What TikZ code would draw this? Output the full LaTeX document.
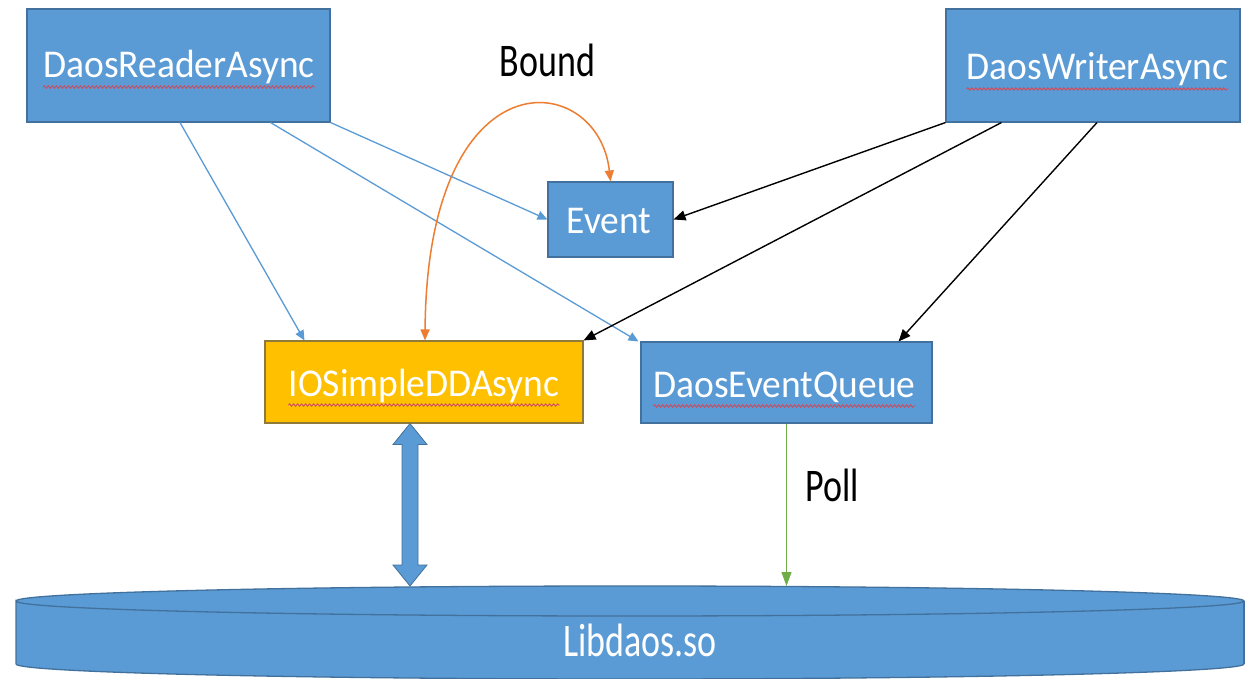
\documentclass[tikz,border=0pt]{standalone}
\usepackage{fontspec}
\setmainfont{Carlito}
\usetikzlibrary{arrows.meta,calc,decorations.pathmorphing}
\definecolor{offblue}{HTML}{5B9BD5}
\definecolor{offblueD}{HTML}{41719C}
\definecolor{offgold}{HTML}{FFC000}
\definecolor{offgoldD}{HTML}{8F7A3A}
\definecolor{offorange}{HTML}{ED7D31}
\definecolor{offgreen}{HTML}{70AD47}
\definecolor{squigred}{HTML}{D04A5A}
\begin{document}
\begin{tikzpicture}[x=1pt,y=-1pt,
  bluebox/.style={draw=offblueD, line width=1.1pt, fill=offblue, inner sep=0pt},
  goldbox/.style={draw=offgoldD, line width=1.1pt, fill=offgold, inner sep=0pt},
  btext/.style={text=white, font=\fontsize{37.5}{42}\selectfont, inner sep=0pt, anchor=base, yscale=1.05, transform shape},
  ktext/.style={text=black, font=\fontsize{36}{40}\selectfont, inner sep=0pt, yscale=1.3, transform shape},
  squig/.style={draw=squigred, line width=0.9pt, decorate, decoration={snake, amplitude=1.2pt, segment length=4pt}},
  bluearr/.style={draw=offblue, line width=1.3pt, -{Triangle[length=10pt,width=9pt]}},
  blackarr/.style={draw=black, line width=1.4pt, -{Triangle[length=12pt,width=10pt]}},
  orangearr/.style={draw=offorange, line width=1.5pt, {Triangle[length=11pt,width=9pt]}-{Triangle[length=11pt,width=9pt]}},
  greenarr/.style={draw=offgreen, line width=1pt, -{Triangle[length=14pt,width=10pt]}}
]
\useasboundingbox (0,0) rectangle (1248,679);
\fill[white] (0,0) rectangle (1248,679);

% boxes
\node[bluebox, minimum width=303pt, minimum height=113pt] (reader) at (178.5,65.5) {};
\node[bluebox, minimum width=294pt, minimum height=113pt] (writer) at (1093,65.5) {};
\node[bluebox, minimum width=125pt, minimum height=75pt] (event) at (610.5,219.5) {};
\node[goldbox, minimum width=318pt, minimum height=82pt] (io) at (424,382) {};
\node[bluebox, minimum width=291pt, minimum height=81pt] (queue) at (786.5,382.5) {};

% texts in boxes
\node[btext] (readert) at (179,78) {DaosReaderAsync};
\node[btext] (writert) at (1097.5,80) {DaosWriterAsync};
\node[btext] (eventt) at (609,233) {Event};
\node[btext] (iot) at (424,396) {IOSimpleDDAsync};
\node[btext] (queuet) at (784.5,397) {DaosEventQueue};

% spell-check underlines
\foreach \t in {readert,writert,iot,queuet}{
  \draw[squig] ([yshift=-9pt]\t.base west) -- ([yshift=-9pt]\t.base east);
}

% cylinder Libdaos.so
\fill[offblue] (16,601) -- (16,664)
  arc[start angle=180, end angle=360, x radius=614pt, y radius=15pt]
  -- (1244,601)
  arc[start angle=0, end angle=180, x radius=614pt, y radius=15pt] -- cycle;
\draw[offblueD, line width=1.3pt] (16,664) -- (16,601)
  arc[start angle=180, end angle=360, x radius=614pt, y radius=15pt]
  arc[start angle=0, end angle=180, x radius=614pt, y radius=15pt];
\draw[offblueD, line width=1.3pt] (1244,601) -- (1244,664);
\draw[offblueD, line width=1.3pt] (16,664)
  arc[start angle=180, end angle=360, x radius=614pt, y radius=15pt];
\coordinate (cyltop) at (630,586);
\node[ktext, text=white, anchor=base] (lib) at (640,656) {Libdaos.so};

% labels
\node[ktext, anchor=base] (bound) at (547.5,77) {Bound};
\node[ktext, anchor=base west] (poll) at (805,501) {Poll};

% blue connectors from DaosReaderAsync
\draw[bluearr] ([xshift=1.5pt]reader.south) -- ([xshift=40pt]io.north west);
\draw[bluearr] ([xshift=-60pt]reader.south east) -- ([xshift=-2pt]queue.north west);
\draw[bluearr] (reader.south east) -- (event.west);

% black connectors from DaosWriterAsync
\draw[blackarr] (writer.south west) -- (event.east);
\draw[blackarr] ([xshift=56pt]writer.south west) -- (io.north east);
\draw[blackarr] ([xshift=4pt]writer.south) -- ([xshift=-34pt]queue.north east);

% Bound curve
\draw[orangearr] ([xshift=1pt]io.north) .. controls +(2,-290) and +(-12,-112) .. (event.north);

% Poll
\draw[greenarr] (queue.south) -- (queue.south |- cyltop);

% double block arrow
\coordinate (T) at ([xshift=-14pt]io.south);
\coordinate (B) at (T |- cyltop);
\draw[offblueD, fill=offblue, line width=0.8pt, line join=miter]
  (T) -- ($(T)+(17,21)$) -- ($(T)+(8,21)$) -- ($(B)+(8,-21)$) -- ($(B)+(17,-21)$)
  -- (B) -- ($(B)+(-17,-21)$) -- ($(B)+(-8,-21)$) -- ($(T)+(-8,21)$) -- ($(T)+(-17,21)$) -- cycle;
\end{tikzpicture}
\end{document}
